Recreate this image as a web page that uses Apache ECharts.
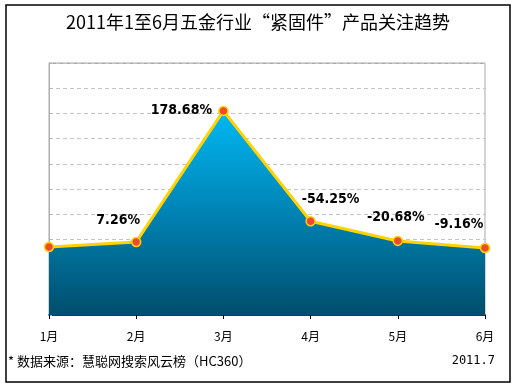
<!DOCTYPE html>
<html>
<head>
<meta charset="utf-8">
<script src="https://cdn.jsdelivr.net/npm/echarts@6/dist/echarts.min.js"></script>
<style>
html,body{margin:0;padding:0;background:#fff;}
#chart{width:516px;height:388px;}
</style>
</head>
<body>
<div id="chart"></div>
<script>
// ---- data ----
const titleText = '2011年1至6月五金行业“紧固件”产品关注趋势';
const months = ['1月', '2月', '3月', '4月', '5月', '6月'];
const attention = [2.70, 2.90, 8.10, 3.72, 2.94, 2.66];
const changeLabels = ['', '7.26%', '178.68%', '-54.25%', '-20.68%', '-9.16%'];
const sourceText = '* 数据来源：慧聪网搜索风云榜（HC360）';
const dateText = '2011.7';

// ---- layout (label offsets relative to each point) ----
const labelOffsets = [[0, 0], [-18, -9], [-42, 12], [20, -10], [-2, -11], [-26, -11]];

const chart = echarts.init(document.getElementById('chart'), null, {renderer: 'canvas'});
const seriesData = attention.map((v, i) => ({
  value: v,
  label: {show: changeLabels[i] !== '', offset: labelOffsets[i]}
}));

chart.setOption({
  backgroundColor: '#fff',
  animation: false,
  title: {
    text: titleText,
    left: 'center',
    top: 8,
    textStyle: {fontFamily: 'Noto Sans CJK SC', fontSize: 18, fontWeight: 'normal', color: '#000'}
  },
  grid: {
    left: 49, right: 31, top: 63, bottom: 73,
    show: true, borderColor: '#a8a8a8', borderWidth: 1, backgroundColor: 'transparent'
  },
  xAxis: {
    type: 'category',
    data: months,
    boundaryGap: false,
    axisLine: {lineStyle: {color: '#000', width: 1.5}},
    axisTick: {show: true, alignWithLabel: true, length: 4, lineStyle: {color: '#000'}},
    axisLabel: {margin: 15, fontFamily: 'Noto Sans CJK SC', fontSize: 12, color: '#000'}
  },
  yAxis: {
    type: 'value',
    min: 0, max: 10, interval: 1,
    axisLine: {show: true, lineStyle: {color: '#b0b0b0', width: 1}},
    axisTick: {show: true, inside: true, length: 3, lineStyle: {color: '#b0b0b0'}},
    axisLabel: {show: false},
    splitLine: {show: true, lineStyle: {color: '#c4c4c4', type: [4, 3], width: 1}}
  },
  series: [{
    type: 'line',
    data: seriesData,
    symbol: 'circle',
    symbolSize: 9,
    itemStyle: {color: '#F04A2E', borderColor: '#FFD200', borderWidth: 1.5},
    lineStyle: {color: '#FFD200', width: 3},
    areaStyle: {
      opacity: 1,
      color: new echarts.graphic.LinearGradient(0, 0, 0, 1, [
        {offset: 0, color: '#00B9F2'},
        {offset: 0.45, color: '#0088BB'},
        {offset: 1, color: '#004E6C'}
      ])
    },
    label: {
      position: 'top',
      distance: 0,
      formatter: p => changeLabels[p.dataIndex],
      fontFamily: '"DejaVu Sans Condensed", "Liberation Sans", sans-serif',
      fontSize: 14,
      fontWeight: 'bold',
      color: '#000'
    },
    z: 3
  }],
  graphic: [
    {
      type: 'rect',
      shape: {x: 6, y: 5, width: 504, height: 377},
      style: {fill: null, stroke: '#000', lineWidth: 1.5},
      silent: true
    },
    {
      type: 'line',
      shape: {x1: 49, y1: 63.5, x2: 485, y2: 63.5},
      style: {stroke: '#a8a8a8', lineWidth: 1},
      silent: true
    },
    {
      type: 'text',
      left: 8, top: 355,
      style: {text: sourceText, fontFamily: 'Noto Sans CJK SC', fontSize: 13, fill: '#000'}
    },
    {
      type: 'text',
      right: 21, top: 355,
      style: {text: dateText, fontFamily: 'DejaVu Sans Mono', fontSize: 12, fill: '#000'}
    }
  ]
});
</script>
</body>
</html>
